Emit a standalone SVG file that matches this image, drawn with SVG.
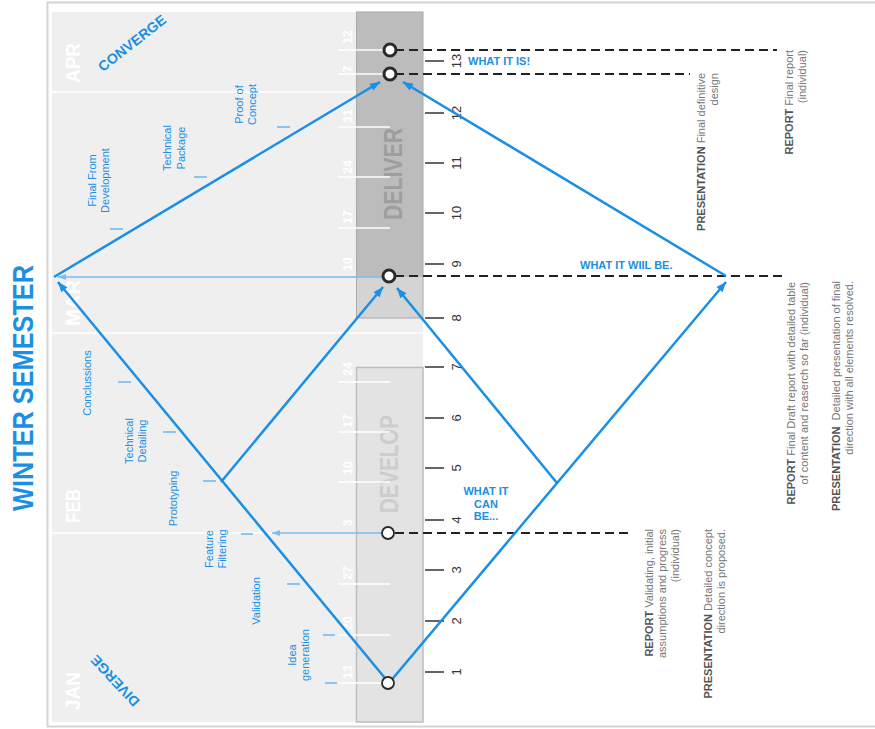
<svg xmlns="http://www.w3.org/2000/svg" width="875" height="729" viewBox="0 0 875 729">
<style>
text{font-family:"Liberation Sans",Arial,sans-serif}
.blue{fill:#1a8fe3}
.lbl{fill:#1a8fe3;font-size:11px;text-anchor:middle}
.wk{fill:#ffffff;font-size:12px;text-anchor:middle;font-weight:bold}
.num{fill:#333;font-size:13px;text-anchor:middle}
.mon{fill:#ffffff;font-size:21px;font-weight:bold;text-anchor:middle}
.ann{fill:#777;font-size:11px;text-anchor:end}
.ann .b{fill:#555;font-weight:bold}
.wlbl{fill:#1a8fe3;font-size:11px;font-weight:bold}
.main{stroke:#1a8fe3;stroke-width:2.5;fill:none}
.thin{stroke:#79bdef;stroke-width:1.5;fill:none}
.dash{stroke:#222;stroke-width:2;stroke-dasharray:9 5;fill:none}
.wline{stroke:#ffffff;stroke-width:1.5}
.tick{stroke:#333;stroke-width:1.5}
.btick{stroke:#7fc0ee;stroke-width:1.8}
.node{fill:#fff;stroke:#2a2a2a}
</style>
<defs>
<marker id="ah" viewBox="0 0 10 8" refX="10" refY="4" markerWidth="11" markerHeight="8" markerUnits="userSpaceOnUse" orient="auto">
<path d="M0,0 L10,4 L0,8 z" fill="#1a8fe3"/>
</marker>
<marker id="ahs" viewBox="0 0 8 6" refX="8" refY="3" markerWidth="8" markerHeight="6" markerUnits="userSpaceOnUse" orient="auto">
<path d="M0,0 L8,3 L0,6 z" fill="#79bdef"/>
</marker>
</defs>

<!-- frame and panel -->
<rect x="47.5" y="2.5" width="840" height="724" fill="#fff" stroke="#d4d4d4" stroke-width="2"/>
<rect x="52" y="12" width="371" height="710" fill="#efefef"/>
<g id="month-lines">
<line class="wline" x1="52" y1="92" x2="356" y2="92" stroke-width="2.5"/>
<line class="wline" x1="52" y1="333" x2="423" y2="333" stroke-width="2.5"/>
<line class="wline" x1="52" y1="533" x2="356" y2="533" stroke-width="2.5"/>
</g>

<!-- phase columns -->
<g id="deliver">
<rect x="356" y="12" width="67" height="265" fill="#bcbcbc"/>
<rect x="356" y="277" width="67" height="41" fill="#d4d4d4"/>
<rect x="356.5" y="12" width="66.5" height="306" fill="none" stroke="#a8a8a8" stroke-width="1"/>
<text transform="translate(402,174) rotate(-90)" text-anchor="middle" font-size="26" font-weight="bold" fill="#9e9e9e" textLength="92" lengthAdjust="spacingAndGlyphs">DELIVER</text>
</g>
<g id="develop">
<rect x="356.5" y="367.5" width="66.5" height="354.5" fill="#e3e3e3" stroke="#bdbdbd" stroke-width="1.5"/>
<text transform="translate(398,464) rotate(-90)" text-anchor="middle" font-size="26" font-weight="bold" fill="#cdcdcd" textLength="98" lengthAdjust="spacingAndGlyphs">DEVELOP</text>
</g>

<!-- week ticks (white) -->
<g id="weeks">
<line class="wline" x1="338" y1="50" x2="384" y2="50"/>
<line class="wline" x1="338" y1="74" x2="384" y2="74"/>
<line class="wline" x1="338" y1="127" x2="390" y2="127"/>
<line class="wline" x1="338" y1="177" x2="390" y2="177"/>
<line class="wline" x1="338" y1="228" x2="390" y2="228"/>
<line class="wline" x1="338" y1="382" x2="390" y2="382"/>
<line class="wline" x1="338" y1="432" x2="390" y2="432"/>
<line class="wline" x1="338" y1="482" x2="390" y2="482"/>
<line class="wline" x1="338" y1="584" x2="390" y2="584"/>
<line class="wline" x1="338" y1="635" x2="390" y2="635"/>
<line class="wline" x1="338" y1="683" x2="384" y2="683"/>
<text class="wk" transform="translate(352,37) rotate(-90)">12</text>
<text class="wk" transform="translate(352,69) rotate(-90)">7</text>
<text class="wk" transform="translate(352,116) rotate(-90)">31</text>
<text class="wk" transform="translate(352,167) rotate(-90)">24</text>
<text class="wk" transform="translate(352,217) rotate(-90)">17</text>
<text class="wk" transform="translate(352,264) rotate(-90)">10</text>
<text class="wk" transform="translate(352,369) rotate(-90)">24</text>
<text class="wk" transform="translate(352,421) rotate(-90)">17</text>
<text class="wk" transform="translate(352,468) rotate(-90)">10</text>
<text class="wk" transform="translate(352,523) rotate(-90)">3</text>
<text class="wk" transform="translate(352,573) rotate(-90)">27</text>
<text class="wk" transform="translate(352,623) rotate(-90)">20</text>
<text class="wk" transform="translate(352,672) rotate(-90)">13</text>
</g>

<!-- month labels -->
<g id="months">
<text class="mon" transform="translate(80,63) rotate(-90)" textLength="40" lengthAdjust="spacingAndGlyphs">APR</text>
<text class="mon" transform="translate(80,303) rotate(-90)" textLength="46" lengthAdjust="spacingAndGlyphs">MAR</text>
<text class="mon" transform="translate(80,506) rotate(-90)" textLength="34" lengthAdjust="spacingAndGlyphs">FEB</text>
<text class="mon" transform="translate(80,691) rotate(-90)" textLength="38" lengthAdjust="spacingAndGlyphs">JAN</text>
</g>

<!-- title -->
<text id="title" class="blue" transform="translate(33,388) rotate(-90)" text-anchor="middle" font-size="29" font-weight="bold" textLength="246" lengthAdjust="spacingAndGlyphs">WINTER SEMESTER</text>
<text id="converge" class="blue" transform="translate(132,43) rotate(-38)" text-anchor="middle" dominant-baseline="central" font-size="14" font-weight="bold" textLength="82" lengthAdjust="spacingAndGlyphs">CONVERGE</text>
<text id="diverge" class="blue" transform="translate(115,681) rotate(-133)" text-anchor="middle" dominant-baseline="central" font-size="14" font-weight="bold" textLength="64" lengthAdjust="spacingAndGlyphs">DIVERGE</text>

<!-- activity labels -->
<g id="activities">
<line class="btick" x1="277" y1="127" x2="290" y2="127"/>
<line class="btick" x1="194" y1="177" x2="207" y2="177"/>
<line class="btick" x1="110" y1="229" x2="123" y2="229"/>
<line class="btick" x1="118" y1="382" x2="131" y2="382"/>
<line class="btick" x1="163" y1="432" x2="176" y2="432"/>
<line class="btick" x1="203" y1="481" x2="216" y2="481"/>
<line class="btick" x1="241" y1="534" x2="253" y2="534"/>
<line class="btick" x1="287" y1="584" x2="300" y2="584"/>
<line class="btick" x1="323" y1="635" x2="335" y2="635"/>
<line class="btick" x1="325" y1="683" x2="337" y2="683"/>
<text class="lbl" transform="translate(243,104.5) rotate(-90)"><tspan x="0">Proof of</tspan><tspan x="0" dy="13">Concept</tspan></text>
<text class="lbl" transform="translate(171,148) rotate(-90)"><tspan x="0">Technical</tspan><tspan x="0" dy="13.5">Package</tspan></text>
<text class="lbl" transform="translate(96,180.5) rotate(-90)"><tspan x="0">Final From</tspan><tspan x="0" dy="12.5">Development</tspan></text>
<text class="lbl" transform="translate(91,383) rotate(-90)">Conclussions</text>
<text class="lbl" transform="translate(133,441) rotate(-90)"><tspan x="0">Technical</tspan><tspan x="0" dy="13">Detailing</tspan></text>
<text class="lbl" transform="translate(177,498.5) rotate(-90)">Prototyping</text>
<text class="lbl" transform="translate(213,549) rotate(-90)"><tspan x="0">Feature</tspan><tspan x="0" dy="12.5">Filtering</tspan></text>
<text class="lbl" transform="translate(260,601) rotate(-90)">Validation</text>
<text class="lbl" transform="translate(296,655) rotate(-90)"><tspan x="0">Idea</tspan><tspan x="0" dy="13">generation</tspan></text>
</g>

<!-- right scale -->
<g id="scale">
<line class="tick" x1="425" y1="672" x2="444" y2="672"/>
<line class="tick" x1="425" y1="621" x2="444" y2="621"/>
<line class="tick" x1="425" y1="570" x2="444" y2="570"/>
<line class="tick" x1="425" y1="520" x2="444" y2="520"/>
<line class="tick" x1="425" y1="468" x2="444" y2="468"/>
<line class="tick" x1="425" y1="418" x2="444" y2="418"/>
<line class="tick" x1="425" y1="367" x2="444" y2="367"/>
<line class="tick" x1="425" y1="318" x2="444" y2="318"/>
<line class="tick" x1="425" y1="264" x2="444" y2="264"/>
<line class="tick" x1="425" y1="213" x2="444" y2="213"/>
<line class="tick" x1="425" y1="163" x2="444" y2="163"/>
<line class="tick" x1="425" y1="113" x2="444" y2="113"/>
<line class="tick" x1="425" y1="61" x2="444" y2="61"/>
<text class="num" transform="translate(461,672) rotate(-90)">1</text>
<text class="num" transform="translate(461,621) rotate(-90)">2</text>
<text class="num" transform="translate(461,570) rotate(-90)">3</text>
<text class="num" transform="translate(461,520) rotate(-90)">4</text>
<text class="num" transform="translate(461,468) rotate(-90)">5</text>
<text class="num" transform="translate(461,418) rotate(-90)">6</text>
<text class="num" transform="translate(461,367) rotate(-90)">7</text>
<text class="num" transform="translate(461,318) rotate(-90)">8</text>
<text class="num" transform="translate(461,264) rotate(-90)">9</text>
<text class="num" transform="translate(461,213) rotate(-90)">10</text>
<text class="num" transform="translate(461,163) rotate(-90)">11</text>
<text class="num" transform="translate(461,113) rotate(-90)">12</text>
<text class="num" transform="translate(461,61) rotate(-90)">13</text>
</g>

<!-- connectors -->
<g id="connectors">
<line class="dash" x1="395" y1="50" x2="777" y2="50"/>
<line class="dash" x1="395" y1="74" x2="690" y2="74"/>
<line class="dash" x1="395" y1="276" x2="785" y2="276"/>
<line class="dash" x1="395" y1="533" x2="630" y2="533"/>
<line class="thin" x1="383" y1="277" x2="58" y2="277" marker-end="url(#ahs)"/>
<line class="thin" x1="383" y1="533" x2="272" y2="533" marker-end="url(#ahs)"/>
<line class="main" x1="389" y1="683" x2="58" y2="282" marker-end="url(#ah)"/>
<line class="main" x1="54" y1="277" x2="380" y2="82" marker-end="url(#ah)"/>
<line class="main" x1="389" y1="683" x2="726" y2="282" marker-end="url(#ah)"/>
<line class="main" x1="726" y1="276" x2="403" y2="82" marker-end="url(#ah)"/>
<line class="main" x1="221" y1="482" x2="383" y2="287" marker-end="url(#ah)"/>
<line class="main" x1="557" y1="483" x2="397" y2="288" marker-end="url(#ah)"/>
</g>

<!-- nodes -->
<g id="node-final-report"><circle class="node" cx="390" cy="50" r="6" stroke-width="3"/></g>
<g id="node-final-design"><circle class="node" cx="390" cy="74" r="6" stroke-width="3"/></g>
<g id="node-draft"><circle class="node" cx="389" cy="276" r="6" stroke-width="3"/></g>
<g id="node-concept"><circle class="node" cx="388" cy="533" r="6" stroke-width="1.8"/></g>
<g id="node-start"><circle class="node" cx="388" cy="683" r="6" stroke-width="1.8"/></g>

<!-- phase labels -->
<g id="what-labels">
<text class="wlbl" x="468" y="65">WHAT IT IS!</text>
<text class="wlbl" x="580" y="269">WHAT IT WIIL BE.</text>
<text class="wlbl" text-anchor="middle"><tspan x="486" y="495">WHAT IT</tspan><tspan x="486" dy="12.5">CAN</tspan><tspan x="486" dy="12.5">BE...</tspan></text>
</g>

<!-- annotations -->
<g id="annotations">
<text class="ann" transform="translate(793,50) rotate(-90)"><tspan x="0"><tspan class="b">REPORT</tspan> Final report</tspan><tspan x="0" dy="13">(individual)</tspan></text>
<text class="ann" transform="translate(705,73) rotate(-90)"><tspan x="0"><tspan class="b">PRESENTATION</tspan> Final definitive</tspan><tspan x="0" dy="13">design</tspan></text>
<text class="ann" transform="translate(795,282) rotate(-90)"><tspan x="0"><tspan class="b">REPORT</tspan> Final Draft report with detailed table</tspan><tspan x="0" dy="13">of content and reaserch so far (individual)</tspan></text>
<text class="ann" transform="translate(840,281) rotate(-90)" xml:space="preserve"><tspan x="0"><tspan class="b">PRESENTATION</tspan>  Detailed presentation of final</tspan><tspan x="0" dy="13">direction with all elements resolved.</tspan></text>
<text class="ann" transform="translate(653,529) rotate(-90)"><tspan x="0"><tspan class="b">REPORT</tspan> Validating, initial</tspan><tspan x="0" dy="13">assumptions and progress</tspan><tspan x="0" dy="13">(individual)</tspan></text>
<text class="ann" transform="translate(712,529) rotate(-90)"><tspan x="0"><tspan class="b">PRESENTATION</tspan> Detailed concept</tspan><tspan x="0" dy="13">direction is proposed.</tspan></text>
</g>
</svg>
